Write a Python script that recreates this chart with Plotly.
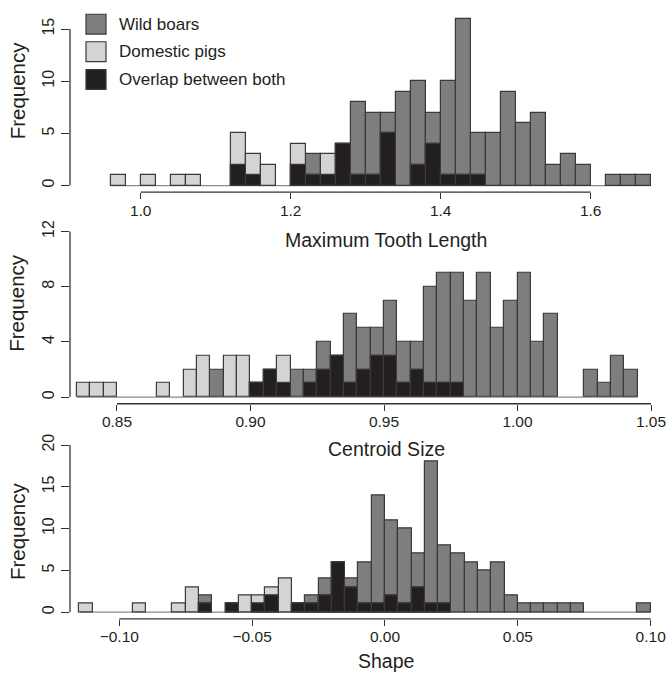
import plotly.graph_objects as go

W, H = 669, 678

# ---------------- data ----------------
# Panel 1: Maximum Tooth Length (bins of 0.02 starting at 0.96)
tooth_start = 0.96
tooth_binw = 0.02
tooth_wild = [0, 0, 0, 0, 0, 0, 0, 0, 2, 1, 0, 0, 2, 3, 1, 4, 8, 7, 7, 9,
              10, 7, 10, 16, 5, 5, 9, 6, 7, 2, 3, 2, 0, 1, 1, 1]
tooth_dom = [1, 0, 1, 0, 1, 1, 0, 0, 5, 3, 2, 0, 4, 1, 3, 4, 1, 1, 5, 0,
             2, 4, 1, 1, 1, 0, 0, 0, 0, 0, 0, 0, 0, 0, 0, 0]
tooth_xticks = [1.0, 1.2, 1.4, 1.6]
tooth_xtext = ["1.0", "1.2", "1.4", "1.6"]
tooth_yticks = [0, 5, 10, 15]

# Panel 2: Centroid Size (bins of 0.005 starting at 0.835)
cs_start = 0.835
cs_binw = 0.005
cs_wild = [0, 0, 0, 0, 0, 0, 0, 0, 0, 0, 2, 0, 0, 1, 2, 1, 2, 2, 4, 3,
           6, 5, 5, 7, 4, 4, 8, 9, 9, 7, 9, 5, 7, 9, 4, 6, 0, 0, 2, 1, 3, 2]
cs_dom = [1, 1, 1, 0, 0, 0, 1, 0, 2, 3, 0, 3, 3, 1, 2, 3, 0, 1, 2, 3,
          1, 2, 3, 3, 1, 2, 1, 1, 1, 0, 0, 0, 0, 0, 0, 0, 0, 0, 0, 0, 0, 0]
cs_xticks = [0.85, 0.90, 0.95, 1.00, 1.05]
cs_xtext = ["0.85", "0.90", "0.95", "1.00", "1.05"]
cs_yticks = [0, 4, 8, 12]

# Panel 3: Shape (bins of 0.005 starting at -0.115)
sh_start = -0.115
sh_binw = 0.005
sh_wild = [0, 0, 0, 0, 0, 0, 0, 0, 0, 2, 0, 1, 0, 1, 2, 0, 1, 2, 4, 6,
           4, 6, 14, 11, 10, 7, 18, 8, 7, 6, 5, 6, 2, 1, 1, 1, 1, 1, 0, 0,
           0, 0, 1]
sh_dom = [1, 0, 0, 0, 1, 0, 0, 1, 3, 1, 0, 1, 2, 2, 3, 4, 1, 1, 2, 6,
          3, 1, 1, 2, 1, 3, 1, 1, 0, 0, 0, 0, 0, 0, 0, 0, 0, 0, 0, 0,
          0, 0, 0]
sh_xticks = [-0.10, -0.05, 0.00, 0.05, 0.10]
sh_xtext = ["\u22120.10", "\u22120.05", "0.00", "0.05", "0.10"]
sh_yticks = [0, 5, 10, 15, 20]

titles = ["Maximum Tooth Length", "Centroid Size", "Shape"]
legend_labels = ["Wild boars", "Domestic pigs", "Overlap between both"]

# ---------------- style ----------------
C_WILD = "#7e7e81"
C_DOM = "#d4d4d4"
C_OVER = "#231f20"
C_EDGE = "#3a3a3a"
C_AXIS = "#333333"
C_TEXT = "#231f20"
FONT = "Liberation Sans, Arial, sans-serif"


def px(x):
    return x / W


def py(y):
    return 1 - y / H


panels = [
    dict(start=tooth_start, binw=tooth_binw, wild=tooth_wild, dom=tooth_dom,
         xticks=tooth_xticks, xtext=tooth_xtext, yticks=tooth_yticks,
         xrange=[0.90573, 1.70440], yrange=[-0.64, 16.64], ypx=(7.0, 188.6),
         title_y=237, freq_y=86),
    dict(start=cs_start, binw=cs_binw, wild=cs_wild, dom=cs_dom,
         xticks=cs_xticks, xtext=cs_xtext, yticks=cs_yticks,
         xrange=[0.83240, 1.056742], yrange=[-0.48, 12.48], ypx=(221.5, 401.7),
         title_y=447, freq_y=300),
    dict(start=sh_start, binw=sh_binw, wild=sh_wild, dom=sh_dom,
         xticks=sh_xticks, xtext=sh_xtext, yticks=sh_yticks,
         xrange=[-0.11855, 0.10689], yrange=[-0.8, 20.8], ypx=(436.6, 618.4),
         title_y=661, freq_y=530),
]

fig = go.Figure()
shapes = []
annotations = []
layout = {}

for i, p in enumerate(panels):
    n = len(p["wild"])
    centers = [p["start"] + (k + 0.5) * p["binw"] for k in range(n)]
    over = [min(a, b) for a, b in zip(p["wild"], p["dom"])]
    suffix = "" if i == 0 else str(i + 1)
    xa, ya = "x" + suffix, "y" + suffix

    def nz(v):
        return [val if val > 0 else None for val in v]

    for vals, col in ((p["wild"], C_WILD), (p["dom"], C_DOM), (over, C_OVER)):
        fig.add_trace(go.Bar(
            x=centers, y=nz(vals), width=p["binw"], xaxis=xa, yaxis=ya,
            marker=dict(color=col, line=dict(color=C_EDGE, width=1.2)),
            showlegend=False, hoverinfo="skip"))

    top, bot = p["ypx"]
    layout["xaxis" + suffix] = dict(
        domain=[px(70), 1], range=p["xrange"], anchor=ya,
        showgrid=False, zeroline=False, showline=False,
        tickmode="array", tickvals=p["xticks"], ticktext=p["xtext"],
        ticks="outside", ticklen=6, tickwidth=1.2, tickcolor=C_AXIS,
        ticklabelstandoff=-2,
        tickfont=dict(family=FONT, size=15.5, color=C_TEXT))
    layout["yaxis" + suffix] = dict(
        domain=[py(bot), py(top)], range=p["yrange"], anchor=xa,
        showgrid=False, zeroline=False, showline=False,
        tickmode="array", tickvals=p["yticks"],
        ticktext=[str(t) for t in p["yticks"]],
        ticks="outside", ticklen=8, tickwidth=1.2, tickcolor=C_AXIS,
        tickangle=-90, ticklabelstandoff=1,
        tickfont=dict(family=FONT, size=16, color=C_TEXT))

    # R-style axis lines spanning first to last tick
    shapes.append(dict(type="line", xref=xa, yref=ya + " domain",
                       x0=p["xticks"][0], x1=p["xticks"][-1], y0=0, y1=0,
                       line=dict(color=C_AXIS, width=1.3)))
    shapes.append(dict(type="line", xref=xa + " domain", yref=ya,
                       x0=0, x1=0, y0=p["yticks"][0], y1=p["yticks"][-1],
                       line=dict(color=C_AXIS, width=1.3)))
    # zero-height bins drawn as a baseline
    shapes.append(dict(type="line", xref=xa, yref=ya, layer="below",
                       x0=p["start"], x1=p["start"] + n * p["binw"], y0=0, y1=0,
                       line=dict(color="#8a8a8a", width=1.2)))

    annotations.append(dict(text=titles[i], x=px(386), y=py(p["title_y"]),
                            xref="paper", yref="paper", showarrow=False,
                            xanchor="center", yanchor="middle",
                            font=dict(family=FONT, size=19.5, color=C_TEXT)))
    annotations.append(dict(text="Frequency", x=px(17), y=py(p["freq_y"]),
                            xref="paper", yref="paper", showarrow=False,
                            textangle=-90, xanchor="center", yanchor="middle",
                            font=dict(family=FONT, size=20.5, color=C_TEXT)))

# legend drawn manually (R-style boxes)
leg_cols = [C_WILD, C_DOM, C_OVER]
leg_y = [19.3, 47.0, 75.0]
for lab, col, yc in zip(legend_labels, leg_cols, leg_y):
    shapes.append(dict(type="rect", xref="paper", yref="paper",
                       x0=px(86), x1=px(106), y0=py(yc + 10), y1=py(yc - 10),
                       fillcolor=col, line=dict(color=C_EDGE, width=1.2)))
    annotations.append(dict(text=lab, x=px(117), y=py(yc), xref="paper",
                            yref="paper", showarrow=False, xanchor="left",
                            yanchor="middle",
                            font=dict(family=FONT, size=17, color=C_TEXT)))

fig.update_layout(
    width=W, height=H, margin=dict(l=0, r=0, t=0, b=0),
    paper_bgcolor="white", plot_bgcolor="white",
    barmode="overlay", bargap=0, showlegend=False,
    shapes=shapes, annotations=annotations, **layout)

fig.write_html("out.html")
